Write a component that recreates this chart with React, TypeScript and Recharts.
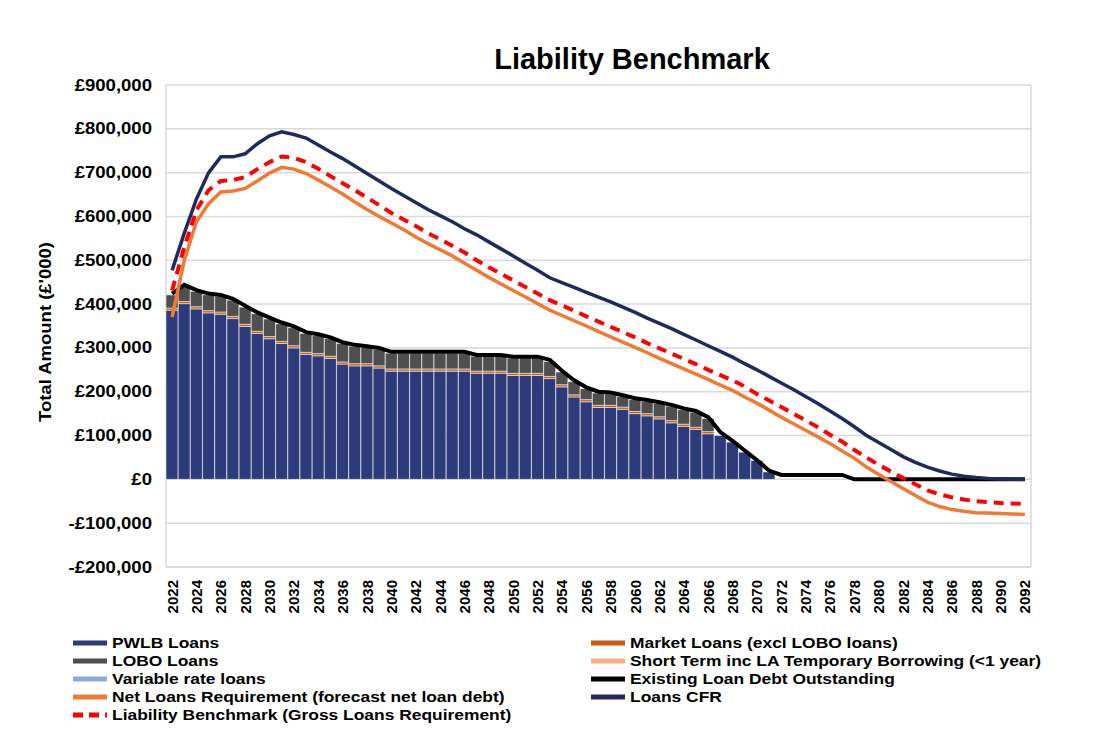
import React from "react";
import {
  ComposedChart,
  Bar,
  Line,
  XAxis,
  YAxis,
  CartesianGrid,
  Legend,
} from "recharts";

// ---- Data (values in £'000 units as displayed: thousands) ----
const years = [
  2022, 2023, 2024, 2025, 2026, 2027, 2028, 2029, 2030, 2031,
  2032, 2033, 2034, 2035, 2036, 2037, 2038, 2039, 2040, 2041,
  2042, 2043, 2044, 2045, 2046, 2047, 2048, 2049, 2050, 2051,
  2052, 2053, 2054, 2055, 2056, 2057, 2058, 2059, 2060, 2061,
  2062, 2063, 2064, 2065, 2066, 2067, 2068, 2069, 2070, 2071,
  2072, 2073, 2074, 2075, 2076, 2077, 2078, 2079, 2080, 2081,
  2082, 2083, 2084, 2085, 2086, 2087, 2088, 2089, 2090, 2091,
  2092,
];

const pwlbLoans = [
  386, 401, 389, 380, 377, 367, 349, 333, 321, 310,
  300, 285, 282, 276, 263, 259, 259, 254, 247, 247,
  247, 247, 247, 247, 247, 242, 242, 242, 237, 237,
  237, 230, 211, 188, 177, 164, 164, 160, 150, 145,
  138, 129, 121, 114, 104, 100, 85, 62, 43, 17,
  0, 0, 0, 0, 0, 0, 0, 0, 0, 0,
  0, 0, 0, 0, 0, 0, 0, 0, 0, 0,
  0,
];

const marketLoans = [
  5, 5, 5, 5, 5, 5, 5, 5, 5, 5,
  5, 5, 5, 5, 5, 5, 5, 5, 5, 5,
  5, 5, 5, 5, 5, 5, 5, 5, 5, 5,
  5, 5, 5, 5, 5, 5, 5, 5, 5, 5,
  5, 5, 5, 5, 5, 0, 0, 0, 0, 0,
  0, 0, 0, 0, 0, 0, 0, 0, 0, 0,
  0, 0, 0, 0, 0, 0, 0, 0, 0, 0,
  0,
];

const loboLoans = [
  30, 35, 35, 36, 36, 37, 39, 40, 40, 40,
  41, 43, 41, 40, 42, 40, 37, 38, 36, 36,
  36, 36, 36, 36, 36, 34, 34, 34, 35, 35,
  35, 34, 29, 30, 25, 28, 26, 24, 27, 28,
  30, 33, 33, 34, 30, 0, 0, 0, 0, 0,
  0, 0, 0, 0, 0, 0, 0, 0, 0, 0,
  0, 0, 0, 0, 0, 0, 0, 0, 0, 0,
  0,
];

const existingDebt = [
  424, 444, 432, 424, 421, 412, 396, 381, 369, 358,
  349, 336, 331, 324, 313, 307, 304, 300, 291, 291,
  291, 291, 291, 291, 291, 284, 284, 284, 280, 280,
  280, 273, 248, 226, 210, 200, 198, 192, 185, 181,
  176, 170, 162, 156, 142, 108, 88, 66, 44, 20,
  10, 10, 10, 10, 10, 10, 0, 0, 0, 0,
  0, 0, 0, 0, 0, 0, 0, 0, 0, 0,
  0,
];

const netLoansRequirement = [
  370, 500, 588, 629, 656, 658, 664, 681, 699, 712,
  708, 698, 683, 667, 651, 633, 616, 600, 585, 570,
  553, 538, 524, 510, 493, 477, 461, 446, 431, 416,
  401, 386, 374, 362, 350, 337, 325, 313, 301, 289,
  276, 264, 252, 240, 228, 215, 203, 188, 174, 158,
  142, 127, 112, 97, 82, 65, 48, 28, 11, -5,
  -21, -37, -52, -62, -69, -73, -76, -77, -78, -79,
  -80,
];

const liabilityBenchmark = [
  431, 530, 614, 660, 681, 683, 690, 708, 724, 737,
  734, 724, 709, 692, 676, 660, 643, 626, 608, 593,
  578, 562, 548, 533, 518, 500, 484, 469, 454, 439,
  424, 409, 397, 385, 372, 360, 348, 336, 324, 311,
  299, 287, 275, 263, 250, 238, 226, 212, 195, 180,
  165, 150, 135, 119, 102, 86, 67, 50, 33, 18,
  3, -11, -25, -34, -41, -46, -50, -52, -54, -55,
  -56,
];

const loansCFR = [
  477, 562, 640, 700, 736, 736, 743, 766, 784, 793,
  787, 779, 763, 747, 732, 715, 698, 681, 664, 648,
  632, 616, 602, 588, 572, 558, 542, 526, 510, 493,
  477, 460, 449, 438, 427, 416, 405, 393, 381, 368,
  356, 344, 331, 318, 305, 292, 279, 264, 250, 235,
  220, 205, 189, 173, 156, 139, 120, 100, 84, 68,
  52, 39, 28, 19, 12, 7, 4, 2, 1, 0,
  0,
];

const yTicks = [-200000, -100000, 0, 100000, 200000, 300000, 400000, 500000, 600000, 700000, 800000, 900000];

const chartTitle = "Liability Benchmark";
const yAxisTitle = "Total Amount (£'000)";

const C = {
  pwlb: "#2E3B7B",
  lobo: "#4F4F4F",
  variable: "#8EA9DB",
  net: "#F07A35",
  lb: "#FF0000",
  market: "#C55A11",
  shortTerm: "#F4B183",
  existing: "#000000",
  cfr: "#222A5C",
};

const legendLeft = [
  { label: "PWLB Loans", color: C.pwlb, dashed: false },
  { label: "LOBO Loans", color: C.lobo, dashed: false },
  { label: "Variable rate loans", color: C.variable, dashed: false },
  { label: "Net Loans Requirement (forecast net loan debt)", color: C.net, dashed: false },
  { label: "Liability Benchmark (Gross Loans Requirement)", color: C.lb, dashed: true },
];
const legendRight = [
  { label: "Market Loans (excl LOBO loans)", color: C.market, dashed: false },
  { label: "Short Term inc LA Temporary Borrowing (<1 year)", color: C.shortTerm, dashed: false },
  { label: "Existing Loan Debt Outstanding", color: C.existing, dashed: false },
  { label: "Loans CFR", color: C.cfr, dashed: false },
];

const data = years.map((y, i) => ({
  year: y,
  pwlb: pwlbLoans[i] * 1000,
  market: marketLoans[i] * 1000,
  lobo: loboLoans[i] * 1000,
  existing: existingDebt[i] * 1000,
  net: netLoansRequirement[i] * 1000,
  lb: liabilityBenchmark[i] * 1000,
  cfr: loansCFR[i] * 1000,
}));

const FONT = "'Liberation Sans', Arial, sans-serif";
const STRETCH = 1.16;

const fmtMoney = (v: number) => {
  const abs = Math.abs(v).toLocaleString("en-GB");
  return v < 0 ? `-£${abs}` : `£${abs}`;
};

const XTick = (props: any) => {
  const { x, y, payload } = props;
  return (
    <g transform={`translate(${x},${y + 5})`}>
      <text
        transform="rotate(-90)"
        textAnchor="end"
        dominantBaseline="central"
        fontFamily={FONT}
        fontWeight="bold"
        fontSize={15}
        fill="#000"
      >
        {payload.value}
      </text>
    </g>
  );
};

const YTick = (props: any) => {
  const { x, y, payload } = props;
  return (
    <g transform={`translate(${x},${y}) scale(${STRETCH},1)`}>
      <text
        x={0}
        y={0}
        textAnchor="end"
        dominantBaseline="central"
        fontFamily={FONT}
        fontWeight="bold"
        fontSize={16}
        fill="#000"
      >
        {fmtMoney(payload.value)}
      </text>
    </g>
  );
};

const YTitle = (props: any) => {
  const { viewBox } = props;
  const cx = viewBox.x + 7;
  const cy = viewBox.y + viewBox.height / 2 + 6;
  return (
    <g transform={`translate(${cx},${cy}) rotate(-90)`}>
      <text
        x={0}
        y={0}
        textAnchor="middle"
        dominantBaseline="central"
        fontFamily={FONT}
        fontWeight="bold"
        fontSize={16}
        fill="#000"
        textLength={180}
        lengthAdjust="spacingAndGlyphs"
      >
        {yAxisTitle}
      </text>
    </g>
  );
};

const Swatch = ({ color, dashed }: { color: string; dashed: boolean }) => (
  <svg width={36} height={8} style={{ display: "block", flex: "none" }}>
    <line
      x1={1}
      y1={4}
      x2={35}
      y2={4}
      stroke={color}
      strokeWidth={5}
      strokeDasharray={dashed ? "10 6" : undefined}
    />
  </svg>
);

const LegendContent = () => {
  const col = (items: typeof legendLeft, left: number) => (
    <div style={{ position: "absolute", left, top: 7 }}>
      {items.map((it) => (
        <div
          key={it.label}
          style={{ display: "flex", alignItems: "center", height: 18 }}
        >
          <Swatch color={it.color} dashed={it.dashed} />
          <span
            style={{
              marginLeft: 4,
              fontFamily: FONT,
              fontWeight: "bold",
              fontSize: 15,
              color: "#000",
              whiteSpace: "nowrap",
              lineHeight: "18px",
              display: "inline-block",
              transform: `scaleX(${STRETCH})`,
              transformOrigin: "left center",
            }}
          >
            {it.label}
          </span>
        </div>
      ))}
    </div>
  );
  return (
    <div style={{ position: "relative", width: 1105, height: 100 }}>
      {col(legendLeft, 72)}
      {col(legendRight, 590)}
    </div>
  );
};

export default function App() {
  return (
    <div
      style={{
        position: "absolute",
        left: 0,
        top: 0,
        width: 1105,
        height: 731,
        background: "#fff",
      }}
    >
      <div
        style={{
          position: "absolute",
          left: 632,
          top: 43,
          transform: "translateX(-50%)",
          fontFamily: FONT,
          fontWeight: "bold",
          fontSize: 29,
          whiteSpace: "nowrap",
          color: "#000",
        }}
      >
        {chartTitle}
      </div>
      <ComposedChart
        width={1105}
        height={731}
        data={data}
        margin={{ top: 85, right: 74, left: 38, bottom: 4 }}
        barCategoryGap={0}
        barGap={0}
      >
        <CartesianGrid
          stroke="#D9D9D9"
          strokeWidth={1.5}
          verticalCoordinatesGenerator={(p: any) => [
            p.offset.left,
            p.offset.left + p.offset.width,
          ]}
        />
        <XAxis
          dataKey="year"
          interval={1}
          tick={<XTick />}
          tickLine={false}
          axisLine={{ stroke: "#D9D9D9", strokeWidth: 1.5 }}
          height={60}
        />
        <YAxis
          domain={[-200000, 900000]}
          ticks={yTicks}
          tick={<YTick />}
          tickLine={false}
          axisLine={false}
          tickSize={0}
          tickMargin={14}
          width={128}
          allowDataOverflow
          label={<YTitle />}
        />
        <Legend
          verticalAlign="bottom"
          height={100}
          wrapperStyle={{ left: 0, width: 1105 }}
          content={<LegendContent />}
        />
        <Bar dataKey="pwlb" stackId="a" fill={C.pwlb} stroke="#ffffff" strokeOpacity={0.5} strokeWidth={1} isAnimationActive={false} />
        <Bar dataKey="market" stackId="a" fill={C.market} stroke="#ffffff" strokeOpacity={0.5} strokeWidth={1} isAnimationActive={false} />
        <Bar dataKey="lobo" stackId="a" fill={C.lobo} stroke="#ffffff" strokeOpacity={0.5} strokeWidth={1} isAnimationActive={false} />
        <Line dataKey="existing" type="linear" stroke={C.existing} strokeWidth={4} dot={false} isAnimationActive={false} />
        <Line dataKey="net" type="linear" stroke={C.net} strokeWidth={3.5} dot={false} isAnimationActive={false} />
        <Line dataKey="lb" type="linear" stroke={C.lb} strokeWidth={4} strokeDasharray="10 7" dot={false} isAnimationActive={false} />
        <Line dataKey="cfr" type="linear" stroke={C.cfr} strokeWidth={3.5} dot={false} isAnimationActive={false} />
      </ComposedChart>
    </div>
  );
}
